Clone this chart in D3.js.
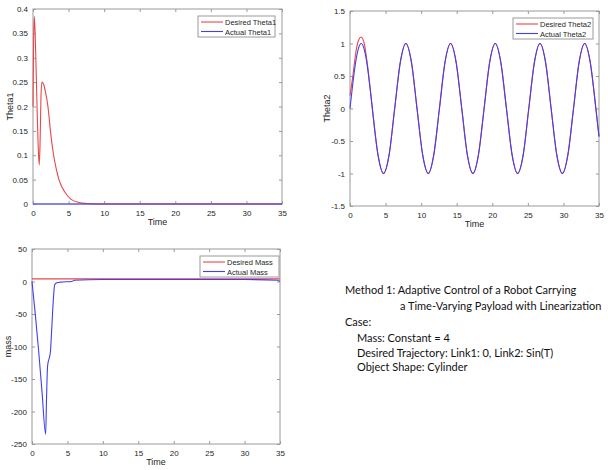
<!DOCTYPE html>
<html>
<head>
<meta charset="utf-8">
<script src="https://cdn.jsdelivr.net/npm/d3@7"></script>
<style>
  body { margin: 0; background: #fff; }
  svg text { font-family: "Liberation Sans", Arial, sans-serif; fill: #262626; }
  .note text { font-family: Lato, "Open Sans", sans-serif; fill: #111; }
</style>
</head>
<body>
<div id="chart"></div>
<script>

// ---- data ----
var xTicks = [0, 5, 10, 15, 20, 25, 30, 35];
var theta1Ticks = [0, 0.05, 0.1, 0.15, 0.2, 0.25, 0.3, 0.35, 0.4];
var theta2Ticks = [-1.5, -1, -0.5, 0, 0.5, 1, 1.5];
var massTicks = [-250, -200, -150, -100, -50, 0, 50];

// Theta1
var desTheta1T = [0, 0.08, 0.18, 0.3, 0.45, 0.6, 0.75, 0.88, 1.0, 1.12, 1.25, 1.5, 1.75, 2.1, 2.45, 2.9, 3.3, 3.65, 4.0, 4.45, 5.3, 6.5, 7.5, 8.9, 12, 20, 35];
var desTheta1 = [0.2, 0.33, 0.385, 0.35, 0.27, 0.18, 0.11, 0.08, 0.13, 0.22, 0.25, 0.245, 0.23, 0.2, 0.15, 0.1, 0.07, 0.05, 0.037, 0.025, 0.01, 0.003, 0.001, 0, 0, 0, 0];
var actTheta1T = [0, 35];
var actTheta1 = [0, 0];

// Theta2
var actTheta2T = [0, 0.4, 0.79, 1.2, 1.57, 2.0, 2.36, 2.8, 3.14, 3.93, 4.71, 5.5, 6.28, 7.07, 7.85, 8.64, 9.42, 10.21, 11.0, 11.78, 12.57, 13.35, 14.14, 14.92, 15.71, 16.49, 17.28, 18.06, 18.85, 19.63, 20.42, 21.2, 21.99, 22.78, 23.56, 24.35, 25.13, 25.92, 26.7, 27.49, 28.27, 29.06, 29.85, 30.63, 31.42, 32.2, 32.99, 33.77, 34.56, 35];
var actTheta2 = [0, 0.39, 0.71, 0.93, 1, 0.91, 0.71, 0.33, 0, -0.71, -1, -0.71, 0, 0.71, 1, 0.71, 0, -0.71, -1, -0.71, 0, 0.71, 1, 0.71, 0, -0.71, -1, -0.71, 0, 0.71, 1, 0.71, 0, -0.71, -1, -0.71, 0, 0.71, 1, 0.71, 0, -0.71, -1, -0.71, 0, 0.71, 1, 0.71, 0, -0.43];
var desTheta2T = [0, 0.4, 0.8, 1.2, 1.55, 2.0, 2.4, 2.8].concat(actTheta2T.slice(8));
var desTheta2 = [0.2, 0.5, 0.85, 1.05, 1.1, 1.0, 0.72, 0.35].concat(actTheta2.slice(8));

// Mass
var desMassT = [0, 35];
var desMass = [4, 4];
var actMassT = [0, 0.47, 0.94, 1.41, 1.93, 2.05, 2.2, 2.6, 2.75, 3.0, 3.2, 3.5, 4.0, 5.6, 6.0, 10, 20, 30, 34.7, 35];
var actMass = [0, -51, -107, -169, -235, -180, -130, -108, -80, -30, -5, -2, -1, 0, 2, 3, 3, 3, 2, 0];

var red = "#e8474a", blue = "#4040ee";

var svg = d3.select("#chart").append("svg")
    .attr("width", 608)
    .attr("height", 470);

function drawPanel(p) {
    var x = d3.scaleLinear().domain([0, 35]).range([p.left, p.right]);
    var y = d3.scaleLinear().domain(p.yDomain).range([p.bottom, p.top]);

    var g = svg.append("g");

    // tick marks on all four sides, pointing in
    var axStyle = function(sel) {
        sel.select(".domain").remove();
        sel.selectAll(".tick line").attr("stroke", "#9a9a9a");
        sel.selectAll(".tick text").style("font-size", "8px").attr("fill", "#262626");
    };
    g.append("g").attr("transform", "translate(0," + p.bottom + ")")
        .call(d3.axisBottom(x).tickValues(xTicks).tickSize(-3).tickPadding(6).tickFormat(String))
        .call(axStyle);
    g.append("g").attr("transform", "translate(0," + p.top + ")")
        .call(d3.axisTop(x).tickValues(xTicks).tickSize(-3).tickFormat(""))
        .call(axStyle);
    g.append("g").attr("transform", "translate(" + p.left + ",0)")
        .call(d3.axisLeft(y).tickValues(p.yTicks).tickSize(-3).tickPadding(5).tickFormat(String))
        .call(axStyle);
    g.append("g").attr("transform", "translate(" + p.right + ",0)")
        .call(d3.axisRight(y).tickValues(p.yTicks).tickSize(-3).tickFormat(""))
        .call(axStyle);

    // box
    g.append("rect")
        .attr("x", p.left).attr("y", p.top)
        .attr("width", p.right - p.left).attr("height", p.bottom - p.top)
        .attr("fill", "none").attr("stroke", "#9a9a9a");

    var line = d3.line()
        .x(function(d) { return x(d[0]); })
        .y(function(d) { return y(d[1]); })
        .curve(d3.curveMonotoneX);

    p.series.forEach(function(s) {
        g.append("path")
            .datum(d3.zip(s.t, s.v))
            .attr("fill", "none")
            .attr("stroke", s.color)
            .attr("stroke-width", 1.1)
            .attr("d", line);
    });

    // axis titles
    g.append("text")
        .attr("x", (p.left + p.right) / 2)
        .attr("y", p.bottom + 21)
        .attr("text-anchor", "middle")
        .style("font-size", "9px")
        .text("Time");
    g.append("text")
        .attr("transform", "translate(" + p.ylabX + "," + (p.top + p.bottom) / 2 + ") rotate(-90)")
        .attr("text-anchor", "middle")
        .style("font-size", "9px")
        .text(p.ylabel);

    // legend
    var L = p.legend;
    g.append("rect")
        .attr("x", L.x).attr("y", L.y)
        .attr("width", L.w).attr("height", 21)
        .attr("fill", "#fff").attr("stroke", "#9a9a9a");
    p.series.forEach(function(s, i) {
        var yy = L.y + 6 + i * 9.5;
        g.append("line")
            .attr("x1", L.x + 3).attr("x2", L.x + 25)
            .attr("y1", yy).attr("y2", yy)
            .attr("stroke", s.color).attr("stroke-width", 1.1);
        g.append("text")
            .attr("x", L.x + 27).attr("y", yy + 3)
            .style("font-size", "7.5px")
            .text(s.name);
    });
}

drawPanel({
    left: 33, right: 282, top: 9, bottom: 204,
    yDomain: [0, 0.4], yTicks: theta1Ticks, ylabel: "Theta1", ylabX: 13,
    legend: {x: 198, y: 16, w: 77},
    series: [
        {name: "Desired Theta1", t: desTheta1T, v: desTheta1, color: red},
        {name: "Actual Theta1", t: actTheta1T, v: actTheta1, color: blue}
    ]
});

drawPanel({
    left: 350, right: 599, top: 11, bottom: 206,
    yDomain: [-1.5, 1.5], yTicks: theta2Ticks, ylabel: "Theta2", ylabX: 330,
    legend: {x: 513, y: 18, w: 80},
    series: [
        {name: "Desired Theta2", t: desTheta2T, v: desTheta2, color: red},
        {name: "Actual Theta2", t: actTheta2T, v: actTheta2, color: blue}
    ]
});

drawPanel({
    left: 32, right: 280, top: 249, bottom: 444,
    yDomain: [-250, 50], yTicks: massTicks, ylabel: "mass", ylabX: 11,
    legend: {x: 200, y: 256, w: 79},
    series: [
        {name: "Desired Mass", t: desMassT, v: desMass, color: red},
        {name: "Actual Mass", t: actMassT, v: actMass, color: blue}
    ]
});

// description text
var notes = [
    {x: 345, y: 294, s: "Method 1: Adaptive Control of a Robot Carrying"},
    {x: 400, y: 310, s: "a Time-Varying Payload with Linearization"},
    {x: 345, y: 326, s: "Case:"},
    {x: 357, y: 342, s: "Mass: Constant = 4"},
    {x: 357, y: 357, s: "Desired Trajectory: Link1: 0, Link2: Sin(T)"},
    {x: 357, y: 371, s: "Object Shape: Cylinder"}
];
svg.append("g").attr("class", "note")
    .selectAll("text")
    .data(notes)
    .enter().append("text")
    .attr("x", function(d) { return d.x; })
    .attr("y", function(d) { return d.y; })
    .style("font-size", "11px")
    .text(function(d) { return d.s; });

</script>
</body>
</html>
